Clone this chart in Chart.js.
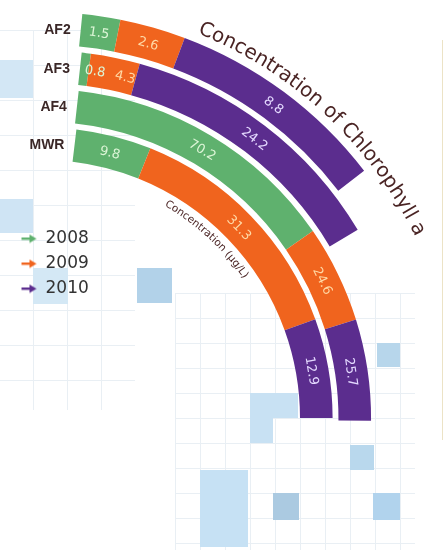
<!DOCTYPE html>
<html>
<head>
<meta charset="utf-8">
<script src="https://cdn.jsdelivr.net/npm/chart.js@4.4.1/dist/chart.umd.min.js"></script>
<style>
  html, body { margin: 0; padding: 0; background: #fff; }
  #wrap { position: relative; width: 444px; height: 550px; overflow: hidden; }
  #wrap canvas { position: absolute; left: 0; top: 0; }
  .tile { position: absolute; }
  .grid { position: absolute;
    background-image:
      linear-gradient(to right, #e9eff4 1px, transparent 1px),
      linear-gradient(to bottom, #e9eff4 1px, transparent 1px); }
</style>
</head>
<body>
<div id="wrap">
  <!-- background tiles -->
  <div class="grid" style="left:0;top:30px;width:135px;height:380px;background-size:34px 35px;background-position:-1px 0"></div>
  <div class="grid" style="left:175px;top:293px;width:240px;height:257px;background-size:25px 25px"></div>
  <div class="tile" style="left:0;top:60px;width:33px;height:38px;background:#d3e7f5"></div>
  <div class="tile" style="left:0;top:199px;width:33px;height:34px;background:#cfe4f4"></div>
  <div class="tile" style="left:33px;top:268px;width:35px;height:36px;background:#d4e8f5"></div>
  <div class="tile" style="left:137px;top:268px;width:35px;height:35px;background:#b2d2e9"></div>
  <div class="tile" style="left:377px;top:343px;width:23px;height:24px;background:#b7d6eb"></div>
  <div class="tile" style="left:250px;top:393px;width:48px;height:25px;background:#c8e1f3"></div>
  <div class="tile" style="left:250px;top:418px;width:23px;height:25px;background:#c8e1f3"></div>
  <div class="tile" style="left:350px;top:445px;width:24px;height:25px;background:#b9d8ed"></div>
  <div class="tile" style="left:200px;top:470px;width:48px;height:77px;background:#c6e1f4"></div>
  <div class="tile" style="left:273px;top:493px;width:26px;height:27px;background:#abcae1"></div>
  <div class="tile" style="left:373px;top:493px;width:27px;height:27px;background:#b1d3ed"></div>
  <div class="tile" style="left:442px;top:40px;width:1px;height:400px;background:#ece3c6"></div>
  <canvas id="chl" width="480" height="600"></canvas>
</div>
<script>
// sites and years
const sites = ['AF2', 'AF3', 'AF4', 'MWR'];
const years = ['2008', '2009', '2010'];

// chlorophyll a concentration (ug/L) per site
const chl2008 = [1.5, 0.8, 70.2, 9.8];
const chl2009 = [2.6, 4.3, 24.6, 31.3];
const chl2010 = [8.8, 24.2, 25.7, 12.9];

// angular span of each ring, degrees clockwise from 12 o'clock
const ringStart = [5.7, 6.2, 6.4, 6.8];
const ringEnd = [52.5, 59.2, 90.5, 90];

const yearColors = ['#5fb16e', '#f0641e', '#5b2d8e'];
const textColors = ['#dcf5d6', '#ffd9a6', '#e4d9ff'];
const inkColor = '#4a2424';

// geometry of the quarter-ring (canvas px)
const CANVAS_W = 480;
const CANVAS_H = 600;
const CENTER_X = 42;
const CENTER_Y = 418;
const OUTER_R = 406;
const INNER_R = 258;
const GAP_WEIGHT = 0.18;

// legend hangs off the left edge of the chart area, bottom-aligned
const AREA_LEFT = 13;
const LEGEND_BOTTOM = 305;

const datasets = [];
sites.forEach((site, i) => {
  datasets.push({
    label: site,
    data: [chl2008[i], chl2009[i], chl2010[i]],
    backgroundColor: yearColors,
    borderWidth: 0,
    rotation: ringStart[i],
    circumference: ringEnd[i] - ringStart[i],
    weight: 1
  });
  // empty gap ring; spanning the right half it also fixes the layout extents
  if (i < sites.length - 1) {
    datasets.push({ label: '', data: [], weight: GAP_WEIGHT, rotation: 0, circumference: 180 });
  }
});

function arrowIcon(color) {
  const c = document.createElement('canvas');
  c.width = 17; c.height = 10;
  const g = c.getContext('2d');
  g.fillStyle = color;
  g.fillRect(1, 4, 10, 2.4);
  g.beginPath();
  g.moveTo(9, 1); g.lineTo(16, 5.2); g.lineTo(9, 9.4); g.closePath();
  g.fill();
  return c;
}

function ringMetas(chart) {
  return chart.data.datasets
    .map((ds, i) => ({ ds, meta: chart.getDatasetMeta(i) }))
    .filter(o => o.ds.data.length);
}

function textOnArc(ctx, text, cx, cy, r, startDeg) {
  let a = (startDeg - 90) * Math.PI / 180;
  for (const ch of text) {
    const w = ctx.measureText(ch).width;
    ctx.save();
    ctx.translate(cx + Math.cos(a) * r, cy + Math.sin(a) * r);
    ctx.rotate(a + Math.PI / 2);
    ctx.fillText(ch, 0, 0);
    ctx.restore();
    a += w / r;
  }
}

// values written along each segment, site names at ring starts, curved titles
const ringText = {
  id: 'ringText',
  afterDatasetsDraw(chart) {
    const ctx = chart.ctx;
    const rings = ringMetas(chart);
    ctx.save();

    ctx.font = '13px "DejaVu Sans"';
    ctx.textAlign = 'center';
    ctx.textBaseline = 'middle';
    rings.forEach(({ ds, meta }) => {
      const arcs = meta.data;
      const first = arcs[0];
      const last = arcs[arcs.length - 1];
      const r = (first.innerRadius + first.outerRadius) / 2;
      const labels = ds.data.map(v => v.toFixed(1));
      const half = labels.map(t => (ctx.measureText(t).width / 2 + 5) / r);
      const pos = arcs.map(a => (a.startAngle + a.endAngle) / 2);
      // keep labels inside the ring and clear of each other
      pos[0] = Math.max(pos[0], first.startAngle + half[0]);
      for (let j = 1; j < pos.length; j++) pos[j] = Math.max(pos[j], pos[j - 1] + half[j - 1] + half[j]);
      const n = pos.length - 1;
      pos[n] = Math.min(pos[n], last.endAngle - half[n]);
      for (let j = n - 1; j >= 0; j--) pos[j] = Math.min(pos[j], pos[j + 1] - half[j + 1] - half[j]);

      labels.forEach((label, j) => {
        const a = pos[j];
        ctx.save();
        ctx.translate(first.x + Math.cos(a) * r, first.y + Math.sin(a) * r);
        ctx.rotate(a + Math.PI / 2);
        ctx.fillStyle = textColors[j];
        ctx.fillText(label, 0, 1);
        ctx.restore();
      });
    });

    ctx.font = 'bold 14px "Liberation Sans"';
    ctx.textAlign = 'right';
    ctx.fillStyle = '#3a2727';
    rings.forEach(({ ds, meta }) => {
      const arc = meta.data[0];
      const r = (arc.innerRadius + arc.outerRadius) / 2;
      const x = arc.x + Math.cos(arc.startAngle) * r;
      const y = arc.y + Math.sin(arc.startAngle) * r;
      ctx.fillText(ds.label, x - 10, y);
    });

    const outer = rings[0].meta.data[0];
    const inner = rings[rings.length - 1].meta.data[0];
    ctx.textAlign = 'left';
    ctx.textBaseline = 'alphabetic';
    ctx.fillStyle = inkColor;
    ctx.font = '20px "DejaVu Sans"';
    textOnArc(ctx, 'Concentration of Chlorophyll a', outer.x, outer.y, outer.outerRadius + 9, 22);
    ctx.font = '10.5px "DejaVu Sans"';
    textOnArc(ctx, 'Concentration (μg/L)', inner.x, inner.y, inner.innerRadius - 13, 30);

    ctx.restore();
  }
};

// with half-circle extents the ring centre sits OUTER_R/2 left of the area centre
const areaWidth = 2 * (CENTER_X + OUTER_R / 2 - AREA_LEFT);

new Chart(document.getElementById('chl'), {
  type: 'doughnut',
  data: { labels: years, datasets },
  options: {
    responsive: false,
    animation: false,
    events: [],
    radius: OUTER_R,
    cutout: (INNER_R / OUTER_R * 100) + '%',
    layout: {
      padding: {
        left: AREA_LEFT,
        right: CANVAS_W - AREA_LEFT - areaWidth,
        top: CENTER_Y - LEGEND_BOTTOM / 2,
        bottom: CANVAS_H - (CENTER_Y + LEGEND_BOTTOM / 2)
      }
    },
    plugins: {
      tooltip: { enabled: false },
      legend: {
        position: 'chartArea',
        align: 'end',
        fullSize: false,
        labels: {
          usePointStyle: true,
          pointStyleWidth: 16,
          padding: 8,
          color: '#333',
          font: { family: 'DejaVu Sans', size: 17 },
          generateLabels: () => years.map((y, i) => ({
            text: y,
            fillStyle: yearColors[i],
            strokeStyle: yearColors[i],
            lineWidth: 0,
            pointStyle: arrowIcon(yearColors[i]),
            fontColor: '#333',
            hidden: false,
            index: i
          }))
        }
      }
    }
  },
  plugins: [ringText]
});
</script>
</body>
</html>
